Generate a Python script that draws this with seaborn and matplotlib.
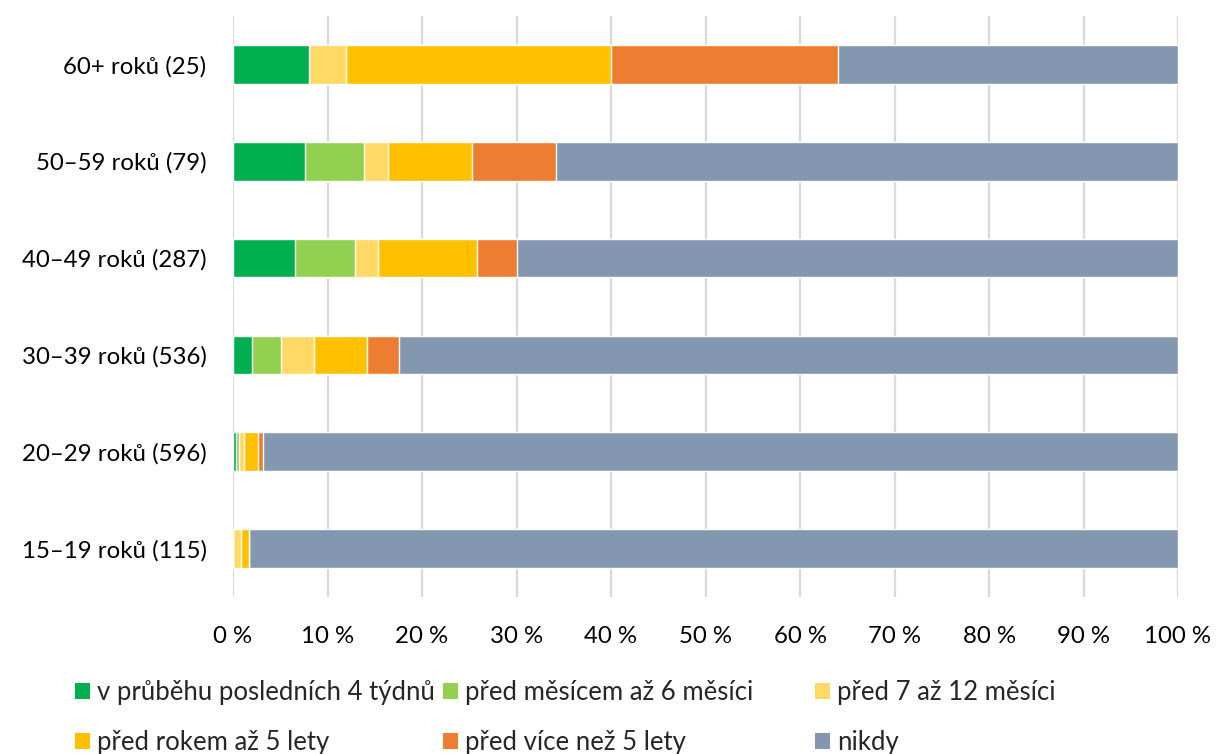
"""
Skládaný pruhový graf: kdy naposledy (podle věkových skupin).
"""

import matplotlib
from matplotlib import pyplot as plt
from matplotlib.patches import Patch
import seaborn as sns
import pandas as pd

matplotlib.use('Agg')

sns.set_style("white")
plt.rcParams['font.family'] = ['Lato', 'DejaVu Sans']

# Data (v %)
kategorie = ["60+ roků (25)", "50–59 roků (79)", "40–49 roků (287)",
             "30–39 roků (536)", "20–29 roků (596)", "15–19 roků (115)"]
v_prubehu_4_tydnu = [8.0, 7.6, 6.6, 2.05, 0.34, 0.0]
pred_mesicem_6_mesici = [0.0, 6.3, 6.3, 3.0, 0.33, 0.0]
pred_7_12_mesici = [4.0, 2.5, 2.4, 3.5, 0.5, 0.87]
pred_rokem_5_lety = [28.0, 8.9, 10.5, 5.6, 1.5, 0.87]
pred_vice_5_lety = [24.0, 8.9, 4.2, 3.4, 0.5, 0.0]
nikdy = [36.0, 65.8, 70.0, 82.45, 96.83, 98.26]

serie = ["v průběhu posledních 4 týdnů", "před měsícem až 6 měsíci",
         "před 7 až 12 měsíci", "před rokem až 5 lety",
         "před více než 5 lety", "nikdy"]
barvy = ["#00B050", "#92D050", "#FFD966", "#FFC000", "#ED7D31", "#8497B0"]
tick_x = [0, 10, 20, 30, 40, 50, 60, 70, 80, 90, 100]

df = pd.DataFrame({
    'kategorie': kategorie,
    serie[0]: v_prubehu_4_tydnu,
    serie[1]: pred_mesicem_6_mesici,
    serie[2]: pred_7_12_mesici,
    serie[3]: pred_rokem_5_lety,
    serie[4]: pred_vice_5_lety,
    serie[5]: nikdy,
})
# Kumulativní součty pro skládání
kum = df[serie].cumsum(axis=1)
kum['kategorie'] = df['kategorie']

fig = plt.figure(figsize=(12.16, 7.54), dpi=100)
ax = fig.add_axes([233 / 1216, 1 - 597 / 754, 945 / 1216, 581 / 754])

# Kreslíme od nejdelší (kumulativní) řady po nejkratší
for s, c in reversed(list(zip(serie, barvy))):
    sns.barplot(data=kum, x=s, y='kategorie', orient='h', color=c,
                saturation=1, width=0.4, ax=ax, zorder=3)

ax.set_xlim(0, 100)
ax.set_ylim(5.5, -0.5)
ax.set_xticks(tick_x)
ax.set_xticklabels([f"{t} %" for t in tick_x])
ax.set_xlabel('')
ax.set_ylabel('')
ax.grid(axis='x', color='#D9D9D9', linewidth=1.6, zorder=0)
ax.grid(axis='y', visible=False)
for sp in ax.spines.values():
    sp.set_visible(False)
ax.tick_params(axis='both', length=0, labelsize=17.3, colors='#000000')
ax.tick_params(axis='y', pad=19)
ax.tick_params(axis='x', pad=21)

# Legenda: tři sloupce, každý zvlášť (pozice jako v Excelu)
handles = [Patch(facecolor=c, edgecolor='none') for c in barvy]
sloupce_x = [75 / 1216, 443 / 1216, 815 / 1216]
for i, x in enumerate(sloupce_x):
    fig.legend(handles=[handles[i], handles[i + 3]],
               labels=[serie[i], serie[i + 3]],
               loc='upper left', bbox_to_anchor=(x, 1 - 680 / 754),
               frameon=False, fontsize=18.5, handlelength=0.58,
               handleheight=0.58, handletextpad=0.28, labelspacing=0.98,
               borderpad=0, borderaxespad=0)

fig.savefig('out.png', dpi=100)
plt.close(fig)
